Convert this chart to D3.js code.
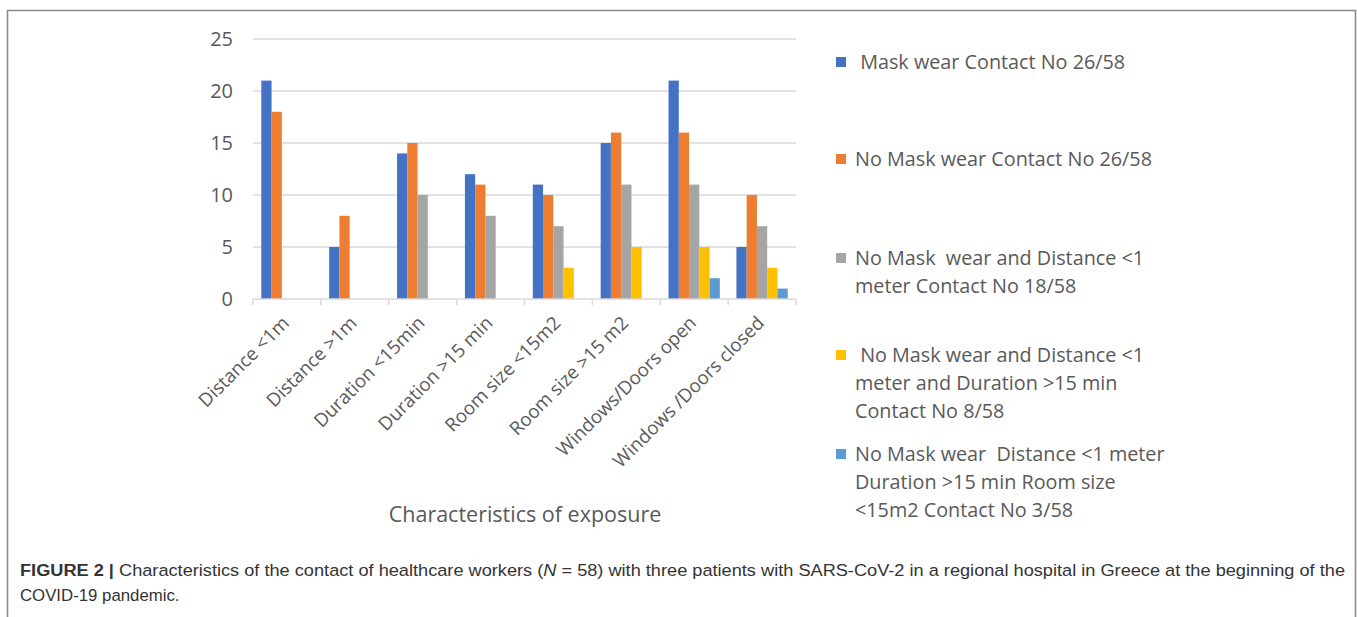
<!DOCTYPE html>
<html>
<head>
<meta charset="utf-8">
<script src="https://cdn.jsdelivr.net/npm/d3@7"></script>
<style>
  html, body { margin: 0; padding: 0; background: #fff; }
  svg { display: block; }
  text { white-space: pre; }
</style>
</head>
<body>
<svg id="chart" width="1357" height="617"></svg>
<script>
// categories and series
const categories = ['Distance <1m', 'Distance >1m', 'Duration <15min', 'Duration >15 min',
  'Room size <15m2', 'Room size >15 m2', 'Windows/Doors open', 'Windows /Doors closed'];
const maskWear        = [21, 5, 14, 12, 11, 15, 21, 5];
const noMaskWear      = [18, 8, 15, 11, 10, 16, 16, 10];
const noMaskDist      = [0, 0, 10, 8, 7, 11, 11, 7];
const noMaskDistDur   = [0, 0, 0, 0, 3, 5, 5, 3];
const noMaskAll       = [0, 0, 0, 0, 0, 0, 2, 1];
const yTicks = [0, 5, 10, 15, 20, 25];
const seriesNames = [
  [' Mask wear Contact No 26/58'],
  ['No Mask wear Contact No 26/58'],
  ['No Mask  wear and Distance <1', 'meter Contact No 18/58'],
  [' No Mask wear and Distance <1', 'meter and Duration >15 min', 'Contact No 8/58'],
  ['No Mask wear  Distance <1 meter', 'Duration >15 min Room size', '<15m2 Contact No 3/58']
];
const seriesColors = ['#4472c4', '#ed7d31', '#a5a5a5', '#ffc000', '#5b9bd5'];
const seriesValues = [maskWear, noMaskWear, noMaskDist, noMaskDistDur, noMaskAll];

const FONT = '"Open Sans", sans-serif';
const svg = d3.select('#chart');

// frame
svg.append('path').attr('d', 'M7.5,617 V10.5 H1355.5 V617')
  .attr('fill', 'none').attr('stroke', '#8a8a8a').attr('stroke-width', 1.6);

const L = 253, R = 796, T = 39, B = 299;
const x0 = d3.scaleBand().domain(categories).range([L, R]).padding(0);
const x1 = d3.scaleBand().domain(d3.range(5)).range([8.3, x0.bandwidth() - 8.3]).padding(0);
const y = d3.scaleLinear().domain([0, 25]).range([B, T]);

// gridlines
svg.append('g').selectAll('line').data(yTicks.filter(d => d > 0)).join('line')
  .attr('x1', L).attr('x2', R).attr('y1', d => y(d)).attr('y2', d => y(d))
  .attr('stroke', '#d9d9d9').attr('stroke-width', 1.5);

// y labels
svg.append('g').selectAll('text').data(yTicks).join('text')
  .attr('x', 233).attr('y', d => y(d)).attr('dy', '0.35em').attr('text-anchor', 'end')
  .attr('font-family', FONT).attr('font-size', 20).attr('fill', '#595959').text(d => d);

// bars
const gCat = svg.append('g').selectAll('g').data(categories).join('g')
  .attr('transform', d => `translate(${x0(d)},0)`);
gCat.selectAll('rect').data((c, i) => seriesValues.map((s, k) => ({ k, v: s[i] })).filter(d => d.v > 0))
  .join('rect')
  .attr('x', d => x1(d.k)).attr('width', x1.bandwidth())
  .attr('y', d => y(d.v)).attr('height', d => y(0) - y(d.v))
  .attr('fill', d => seriesColors[d.k]);

// x axis baseline and ticks
svg.append('line').attr('x1', L).attr('x2', R).attr('y1', B).attr('y2', B)
  .attr('stroke', '#d9d9d9').attr('stroke-width', 1.5);
const bounds = categories.map(c => x0(c)).concat([R]);
svg.append('g').selectAll('line').data(bounds).join('line')
  .attr('x1', d => d).attr('x2', d => d).attr('y1', B).attr('y2', B + 6)
  .attr('stroke', '#d9d9d9').attr('stroke-width', 1.5);

// rotated category labels
svg.append('g').selectAll('text').data(categories).join('text')
  .attr('transform', d => `translate(${x0(d) + x0.bandwidth() / 2 - 6},${B + 16}) rotate(-45)`)
  .attr('text-anchor', 'end').attr('dy', '0.7em')
  .attr('font-family', FONT).attr('font-size', 18.7).attr('fill', '#595959').text(d => d);

// axis title
svg.append('text').attr('x', 525).attr('y', 522).attr('text-anchor', 'middle')
  .attr('font-family', FONT).attr('font-size', 21.5).attr('fill', '#595959')
  .text('Characteristics of exposure');

// legend
const legendY = [62, 159, 258, 355, 454];
const gLeg = svg.append('g').selectAll('g').data(seriesNames).join('g');
gLeg.append('rect').attr('x', 836).attr('y', (d, i) => legendY[i] - 5)
  .attr('width', 10).attr('height', 10).attr('fill', (d, i) => seriesColors[i]);
gLeg.append('text').attr('font-family', FONT).attr('font-size', 19.8).attr('fill', '#595959')
  .each(function (lines, i) {
    d3.select(this).selectAll('tspan').data(lines).join('tspan')
      .attr('x', 855).attr('y', (l, j) => legendY[i] + j * 28).attr('dy', '0.35em').text(l => l);
  });

// caption
const cap = svg.append('g').attr('font-family', '"Liberation Sans", Arial, sans-serif')
  .attr('font-size', 16.8).attr('fill', '#333');
const line1 = cap.append('text').attr('x', 20).attr('y', 576)
  .attr('textLength', 1325).attr('lengthAdjust', 'spacingAndGlyphs');
line1.append('tspan').attr('font-weight', 700).text('FIGURE 2 | ');
line1.append('tspan').text('Characteristics of the contact of healthcare workers (');
line1.append('tspan').attr('font-style', 'italic').text('N');
line1.append('tspan').text(' = 58) with three patients with SARS-CoV-2 in a regional hospital in Greece at the beginning of the');
cap.append('text').attr('x', 20).attr('y', 601).text('COVID-19 pandemic.');
</script>
</body>
</html>
